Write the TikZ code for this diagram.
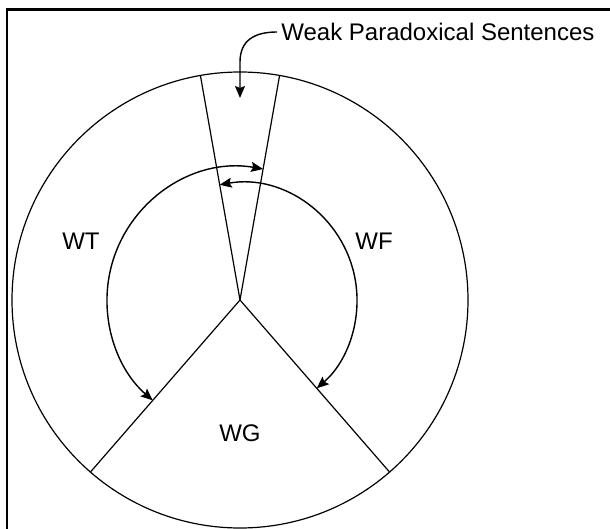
\documentclass[tikz,border=0pt]{standalone}
\usepackage{fontspec}
\setmainfont{Liberation Sans}
\usetikzlibrary{arrows.meta}

\begin{document}
\begin{tikzpicture}[
  x=0.5pt,y=0.5pt,
  part/.style={line width=.6pt},
  sweep/.style={line width=.7pt,{Stealth[length=6pt,width=5pt,inset=1pt]}-{Stealth[length=6pt,width=5pt,inset=1pt]}},
  pointer/.style={line width=.7pt,-{Stealth[length=6pt,width=5pt,inset=1pt]}},
  region/.style={font=\fontsize{12}{14}\selectfont,inner sep=2pt}
]
  \useasboundingbox (-240,-229) rectangle (370,300);
  \draw[line width=1.2pt] (-233,-229) |- (370,290.5);

  % wheel and its sectors
  \coordinate (o) at (0,0);
  \draw[part] (o) circle[radius=228];
  \foreach \a/\n in {80/pr,100/pl,229/gl,311/gr}
    \draw[part] (o) -- (\a:228) coordinate (\n);

  \node[region] (wt) at (-159,59) {WT};
  \node[region] (wf) at (134,59) {WF};
  \node[region] (wg) at (0,-133) {WG};
  \node[region,anchor=west] (wps) at (37,268) {Weak Paradoxical Sentences};

  % ranges
  \coordinate (tl) at (80:133);
  \coordinate (tr) at (100:117);
  \draw[sweep] (tl) arc[start angle=80,end angle=229,radius=133];
  \draw[sweep] (tr) arc[start angle=100,end angle=-49,radius=117];

  \coordinate (mark) at (0,202);
  \draw[pointer] (wps.west) .. controls (15,268) and (0,260) .. (0,238) -- (mark);
\end{tikzpicture}
\end{document}
